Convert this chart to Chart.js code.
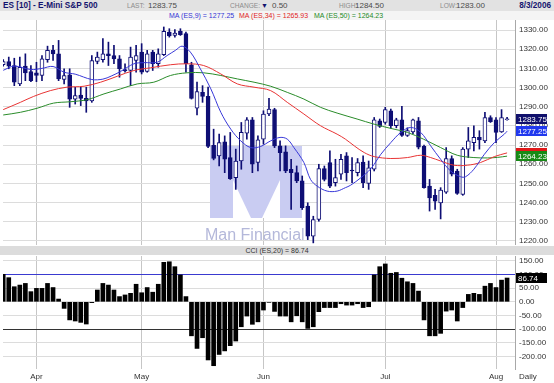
<!DOCTYPE html>
<html>
<head>
<meta charset="utf-8">
<script src="https://cdn.jsdelivr.net/npm/chart.js@4.4.0/dist/chart.umd.min.js"></script>
<style>
  body { margin: 0; width: 554px; height: 383px; background: #d4d4d4; position: relative; overflow: hidden;
         font-family: "Liberation Sans", Arial, sans-serif; }
  .row { position: absolute; left: 0; width: 554px; font-size: 8px; white-space: nowrap; }
  #r1 { top: 0; height: 11px; background: #e2e2e2; }
  #r2 { top: 11px; height: 9px; background: #f4f4f4; font-size: 7px; }
  .t { position: absolute; top: 1px; line-height: 9px; }
  #r2 .t { top: 0; }
  .lbl { color: #8c8c8c; font-size: 6.6px; }
  .val { color: #4a4a4a; }
  .ttl { font-weight: bold; color: #14146e; font-size: 8.2px; }
  canvas { position: absolute; left: 0; background: #fff; }
  #main { top: 20px; }
  #cci { top: 245px; }
  #cciTitle { position: absolute; left: 0; top: 246px; width: 554px; height: 9px; background: #dcdcdc;
              font-size: 7px; line-height: 9px; color: #333; text-align: center; }
  #daily { position: absolute; left: 519px; top: 372px; font-size: 8px; color: #333; }
</style>
</head>
<body>
<div class="row" id="r1">
  <span class="t ttl" style="left:3px">ES [10] - E-Mini S&amp;P 500</span>
  <span class="t lbl" style="left:127px">LAST:</span><span class="t val" style="left:148px">1283.75</span>
  <span class="t lbl" style="left:230px">CHANGE:</span><span class="t" style="left:261px;color:#14146e;font-size:7px">&#9660;</span><span class="t val" style="left:272px">0.50</span>
  <span class="t lbl" style="left:339px">HIGH:</span><span class="t val" style="left:355px">1284.50</span>
  <span class="t lbl" style="left:440px">LOW:</span><span class="t val" style="left:456px">1283.00</span>
  <span class="t ttl" style="right:3px">8/3/2006</span>
</div>
<div class="row" id="r2">
  <span class="t" style="left:169px;color:#3434d4">MA (ES,9) = 1277.25</span>
  <span class="t" style="left:239px;color:#e02424">MA (ES,34) = 1265.93</span>
  <span class="t" style="left:314px;color:#1f8a1f">MA (ES,50) = 1264.23</span>
</div>
<canvas id="main" width="554" height="227"></canvas>
<canvas id="cci" width="554" height="138"></canvas>
<div id="cciTitle">CCI (ES,20) = 86.74</div>
<div id="daily">Daily</div>
<script>
// months and the bar index of their first trading day
const monthLabels = ['Apr', 'May', 'Jun', 'Jul', 'Aug'];
const monthStarts = [6, 25, 47, 69, 89];

// daily OHLC, 24 Mar 2006 .. 3 Aug 2006
const opens = [1311.9, 1313.6, 1311.5, 1301.9, 1311.2, 1308.4, 1307.7, 1306.3, 1314.6, 1319.4,
  1317.6, 1304.2, 1306.6, 1294.0, 1296.1, 1294.4, 1293.0, 1313.6, 1314.6, 1317.6,
  1316.7, 1315.0, 1309.4, 1308.9, 1314.1, 1318.5, 1308.4, 1318.5, 1312.4, 1317.1,
  1329.0, 1327.2, 1329.3, 1328.1, 1311.9, 1289.2, 1297.5, 1295.4, 1269.9, 1264.4,
  1271.7, 1263.5, 1253.0, 1261.7, 1276.2, 1283.2, 1260.9, 1273.1, 1286.2, 1288.5,
  1269.6, 1266.5, 1257.4, 1255.6, 1251.3, 1238.2, 1222.5, 1231.2, 1257.7, 1260.9,
  1250.4, 1254.8, 1264.4, 1257.0, 1255.6, 1261.2, 1250.0, 1257.4, 1282.7, 1281.8,
  1287.9, 1280.1, 1283.2, 1275.0, 1276.9, 1282.7, 1269.3, 1248.6, 1243.8, 1239.9,
  1245.5, 1263.0, 1256.5, 1244.3, 1267.9, 1271.3, 1274.0, 1272.2, 1284.4, 1283.2,
  1276.9, 1283.25];
const highs = [1314.6, 1315.9, 1315.3, 1315.9, 1317.6, 1311.5, 1313.2, 1316.7, 1321.6, 1322.0,
  1324.6, 1309.8, 1309.8, 1300.2, 1300.2, 1300.2, 1316.7, 1318.5, 1325.5, 1323.7,
  1322.0, 1316.7, 1312.4, 1321.1, 1322.0, 1322.9, 1319.4, 1319.4, 1320.2, 1331.6,
  1330.7, 1330.2, 1330.7, 1329.0, 1313.2, 1302.8, 1301.0, 1300.2, 1278.3, 1275.7,
  1274.8, 1276.6, 1267.9, 1281.8, 1284.4, 1284.4, 1274.8, 1287.9, 1294.4, 1289.2,
  1272.2, 1269.6, 1262.6, 1259.1, 1253.9, 1239.9, 1232.9, 1260.0, 1259.1, 1267.0,
  1262.6, 1265.2, 1266.1, 1263.5, 1263.0, 1264.4, 1261.7, 1284.4, 1283.6, 1289.7,
  1288.8, 1284.0, 1290.2, 1279.0, 1283.6, 1284.4, 1270.0, 1252.1, 1246.9, 1247.8,
  1268.7, 1264.4, 1257.4, 1268.7, 1279.2, 1280.1, 1277.5, 1287.1, 1285.3, 1284.4,
  1288.5, 1284.5];
const lows = [1311.2, 1309.8, 1301.0, 1301.0, 1303.6, 1303.1, 1303.1, 1303.6, 1313.2, 1314.1,
  1303.6, 1301.9, 1289.7, 1291.4, 1290.6, 1287.1, 1292.3, 1312.4, 1313.2, 1311.5,
  1312.4, 1305.4, 1308.0, 1301.0, 1308.0, 1307.1, 1308.0, 1308.9, 1310.6, 1316.7,
  1326.3, 1326.3, 1327.2, 1308.0, 1294.0, 1285.7, 1292.3, 1268.7, 1262.3, 1259.1,
  1255.6, 1252.1, 1246.9, 1257.4, 1273.1, 1255.6, 1256.5, 1270.5, 1285.3, 1268.7,
  1256.5, 1255.6, 1236.4, 1250.4, 1236.4, 1220.7, 1219.0, 1230.3, 1251.3, 1247.8,
  1248.6, 1252.1, 1251.3, 1250.4, 1253.9, 1247.8, 1246.9, 1256.5, 1279.2, 1280.9,
  1278.7, 1279.0, 1274.5, 1274.5, 1276.0, 1268.0, 1247.5, 1235.6, 1236.4, 1231.5,
  1244.8, 1253.9, 1244.3, 1243.8, 1263.5, 1267.0, 1267.9, 1271.3, 1281.8, 1271.3,
  1276.6, 1283.0];
const closes = [1313.6, 1311.2, 1302.8, 1310.6, 1307.7, 1303.6, 1306.3, 1315.0, 1319.4, 1317.6,
  1304.5, 1306.3, 1294.0, 1295.8, 1294.4, 1293.0, 1314.1, 1315.9, 1317.6, 1316.7,
  1315.0, 1309.8, 1308.7, 1315.9, 1316.7, 1308.0, 1317.6, 1312.4, 1317.6, 1329.3,
  1326.9, 1328.4, 1327.6, 1312.4, 1294.4, 1297.9, 1295.4, 1269.3, 1263.0, 1271.3,
  1262.6, 1252.5, 1261.7, 1276.6, 1283.2, 1260.0, 1272.7, 1286.2, 1288.8, 1269.6,
  1266.1, 1256.5, 1255.6, 1251.3, 1237.3, 1222.5, 1231.2, 1257.7, 1252.1, 1248.6,
  1253.0, 1262.6, 1255.6, 1256.5, 1260.9, 1250.4, 1258.2, 1283.2, 1279.7, 1288.5,
  1280.1, 1283.2, 1275.0, 1277.6, 1283.2, 1268.9, 1247.8, 1242.5, 1240.8, 1246.6,
  1263.0, 1254.8, 1244.8, 1267.9, 1272.2, 1274.0, 1272.7, 1284.4, 1282.2, 1276.6,
  1284.4, 1283.75];

// moving averages: [bar index, value]
const ma9 = [[0, 1309.0], [2, 1311.2], [5, 1309.4], [7, 1310.0], [9, 1311.0], [11, 1308.0], [13, 1307.0],
  [16, 1304.2], [18, 1304.4], [19.5, 1306.0], [21.2, 1308.4], [23.6, 1312.4], [25.4, 1313.0], [27.8, 1313.2],
  [29.6, 1316.7], [31.1, 1319.4], [32.3, 1321.6], [33.8, 1318.5], [35.6, 1309.8], [37.5, 1299.3],
  [39.3, 1287.1], [41.1, 1278.3], [42.9, 1272.2], [44.7, 1268.7], [46.5, 1269.3], [48.3, 1272.2],
  [50.0, 1274.0], [51.3, 1273.1], [52.5, 1268.7], [54.3, 1260.9], [55.5, 1252.1], [56.7, 1248.6],
  [58.5, 1246.0], [60.3, 1246.0], [61.8, 1247.8], [62.7, 1249.0], [64.6, 1253.0], [66.4, 1257.7],
  [68.2, 1265.2], [70.0, 1271.3], [71.8, 1276.6], [73.6, 1279.2], [75.4, 1276.6], [77.2, 1269.6],
  [79.0, 1262.6], [80.8, 1256.5], [82.6, 1253.5], [83.5, 1253.5], [85.0, 1257.4], [86.9, 1265.2],
  [88.7, 1271.3], [90.5, 1275.7], [91, 1277.25]];
const ma34 = [[0, 1288.5], [3.1, 1292.3], [5.5, 1295.4], [8.5, 1298.4], [11.5, 1300.2], [14.6, 1300.7],
  [17.6, 1302.8], [20.6, 1305.9], [23.6, 1308.9], [26.6, 1310.3], [30.2, 1311.9], [33.2, 1312.4],
  [36.2, 1311.5], [39.3, 1307.1], [42.3, 1301.9], [45.3, 1300.2], [48.3, 1298.4], [51.3, 1292.3],
  [54.3, 1286.2], [57.3, 1280.1], [60.3, 1275.7], [61.8, 1273.1], [63.4, 1269.6], [65.2, 1266.1],
  [67.0, 1264.0], [70.0, 1263.0], [73.0, 1263.5], [75.4, 1264.7], [77.2, 1263.5], [79.0, 1261.7],
  [81.4, 1259.5], [83.8, 1259.5], [86.2, 1260.9], [88.7, 1264.0], [91, 1265.93]];
const ma50 = [[0, 1285.7], [3.1, 1287.1], [6.1, 1289.2], [9.1, 1291.9], [12.1, 1292.6], [15.2, 1293.7],
  [18.2, 1296.7], [21.2, 1299.3], [24.2, 1301.9], [27.2, 1302.8], [30.2, 1306.3], [33.2, 1307.7],
  [36.2, 1307.7], [39.3, 1306.3], [42.3, 1304.5], [45.3, 1302.8], [48.3, 1300.7], [51.3, 1297.5],
  [54.3, 1294.0], [57.3, 1289.7], [60.3, 1286.7], [63.9, 1283.6], [67.0, 1280.9], [70.0, 1278.7],
  [73.0, 1276.6], [75.9, 1273.1], [79.0, 1268.7], [82.0, 1264.7], [85.0, 1263.5], [87.5, 1263.3],
  [89.3, 1263.6], [91, 1264.23]];

// CCI(20)
const cci = [100, 88, 55, 61, 67, 37, 49, 49, 67, 52,
  10, -24, -66, -70, -75, -81, -3, 43, 67, 61,
  43, 19, 25, 31, 64, 33, 52, 35, 64, 144,
  146, 128, 98, 19, -124, -170, -131, -212, -233, -192,
  -179, -160, -143, -91, -52, -82, -73, -30, -2, -35,
  -52, -52, -73, -51, -73, -97, -91, -36, -21, -21,
  -21, -7, -12, -12, -7, -21, -18, 98, 128, 138,
  104, 107, 86, 73, 67, 39, -66, -124, -124, -115,
  -34, -30, -70, -21, 27, 31, 27, 57, 67, 52,
  79, 86.74];

const priceTicks = [1330, 1325, 1320, 1315, 1310, 1305, 1300, 1295, 1290, 1285, 1280, 1275, 1270,
  1265, 1260, 1255, 1250, 1245, 1240, 1235, 1230, 1225, 1220];
const cciTicks = [150, 100, 50, 0, -50, -100, -150, -200];

// right-axis value flags
const priceFlags = [
  { value: 1283.75, bg: '#10106c' },
  { value: 1277.25, bg: '#2038ee' },
  { value: 1265.93, bg: '#e01818' },
  { value: 1264.23, bg: '#168a16' }
];
const cciFlag = { value: 86.74, bg: '#000000' };

const NAVY = '#0e0e74';
Chart.defaults.font = { family: '"Liberation Sans", Arial, sans-serif', size: 8 };
Chart.defaults.color = '#333';

function zeroPad(s) {
  s.paddingTop = 0; s.paddingBottom = 0; s.paddingLeft = 0; s.paddingRight = 0;
}

function flagPlugin(flags) {
  return {
    id: 'flags',
    afterDraw(chart) {
      const ctx = chart.ctx, y = chart.scales.y;
      ctx.save();
      ctx.font = '8px "Liberation Sans", Arial, sans-serif';
      ctx.textBaseline = 'middle';
      flags.forEach(f => {
        const py = Math.round(y.getPixelForValue(f.value));
        ctx.fillStyle = f.bg;
        ctx.fillRect(516, py - 5, 31, 10);
        ctx.fillStyle = '#fff';
        ctx.fillText(f.value.toFixed(2), 518, py + 0.5);
      });
      ctx.restore();
    }
  };
}

// the "Man Financial" watermark behind the candles (canvas starts 20px down the page)
const watermark = {
  id: 'watermark',
  beforeDatasetsDraw(chart) {
    const ctx = chart.ctx;
    ctx.save();
    ctx.fillStyle = '#c9ccf2';
    ctx.fillRect(210, 126, 92, 72);
    ctx.fillStyle = '#ffffff';
    ctx.beginPath();
    ctx.moveTo(233, 198); ctx.lineTo(233, 160); ctx.lineTo(251, 198);
    ctx.closePath();
    ctx.fill();
    ctx.beginPath();
    ctx.moveTo(280, 198); ctx.lineTo(280, 160); ctx.lineTo(262, 198);
    ctx.closePath();
    ctx.fill();
    ctx.fillStyle = '#b4b8da';
    ctx.font = '16px "Liberation Sans", Arial, sans-serif';
    ctx.textBaseline = 'alphabetic';
    ctx.fillText('Man Financial', 205, 220);
    ctx.restore();
  }
};

const xRange = { min: -0.04, max: 92.43 };

function monthAxis(showLabels) {
  return {
    type: 'linear', min: xRange.min, max: xRange.max, offset: false,
    afterBuildTicks: s => { s.ticks = monthStarts.map(v => ({ value: v })); },
    afterFit: s => { zeroPad(s); s.height = showLabels ? 14 : 0; },
    grid: { color: '#c6c6c6', drawTicks: false, offset: false },
    border: { display: false },
    ticks: {
      display: showLabels, padding: 3, maxRotation: 0, autoSkip: false,
      callback: v => monthLabels[monthStarts.indexOf(v)]
    }
  };
}

new Chart(document.getElementById('main'), {
  type: 'bar',
  data: {
    datasets: [
      { type: 'line', data: ma9.map(p => ({ x: p[0], y: p[1] })), borderColor: '#3838d8', borderWidth: 1,
        pointRadius: 0, tension: 0.35, order: 0 },
      { type: 'line', data: ma34.map(p => ({ x: p[0], y: p[1] })), borderColor: '#e83434', borderWidth: 1,
        pointRadius: 0, tension: 0.35, order: 0 },
      { type: 'line', data: ma50.map(p => ({ x: p[0], y: p[1] })), borderColor: '#2a8c2a', borderWidth: 1,
        pointRadius: 0, tension: 0.35, order: 0 },
      { data: opens.map((o, i) => ({ x: i, y: [Math.min(o, closes[i]), Math.max(o, closes[i])] })),
        backgroundColor: opens.map((o, i) => closes[i] >= o ? '#ffffff' : NAVY),
        borderColor: NAVY, borderWidth: 1, borderSkipped: false, barThickness: 4, grouped: false, order: 1 },
      { data: highs.map((h, i) => ({ x: i, y: [lows[i], h] })),
        backgroundColor: NAVY, barThickness: 1, grouped: false, order: 2 }
    ]
  },
  options: {
    responsive: false, animation: false, events: [],
    layout: { padding: { left: 3, right: 0, top: 0, bottom: 0 } },
    plugins: { legend: { display: false }, tooltip: { enabled: false } },
    scales: {
      x: monthAxis(false),
      y: {
        position: 'right', min: 1216.85, max: 1335.24,
        afterBuildTicks: s => { s.ticks = priceTicks.map(v => ({ value: v })); },
        afterFit: s => { zeroPad(s); s.width = 39; },
        grid: { color: '#dcdcdc', drawTicks: false },
        border: { color: '#a8a8a8' },
        ticks: { padding: 4, callback: v => v.toFixed(2) }
      }
    }
  },
  plugins: [watermark, flagPlugin(priceFlags)]
});

new Chart(document.getElementById('cci'), {
  type: 'bar',
  data: {
    datasets: [
      { data: cci.map((v, i) => ({ x: i, y: v })), backgroundColor: '#000', barThickness: 4 }
    ]
  },
  options: {
    responsive: false, animation: false, events: [],
    layout: { padding: { left: 3, right: 0, top: 11, bottom: 0 } },
    plugins: { legend: { display: false }, tooltip: { enabled: false } },
    scales: {
      x: monthAxis(true),
      y: {
        position: 'right', min: -245, max: 167,
        afterBuildTicks: s => { s.ticks = cciTicks.map(v => ({ value: v })); },
        afterFit: s => { zeroPad(s); s.width = 39; },
        grid: {
          drawTicks: false,
          color: c => c.tick.value === 100 ? '#3a3ad0' : (c.tick.value === -100 ? '#333333' : '#dcdcdc')
        },
        border: { color: '#a8a8a8' },
        ticks: { padding: 4, callback: v => v.toFixed(2) }
      }
    }
  },
  plugins: [flagPlugin([cciFlag])]
});
</script>
</body>
</html>
